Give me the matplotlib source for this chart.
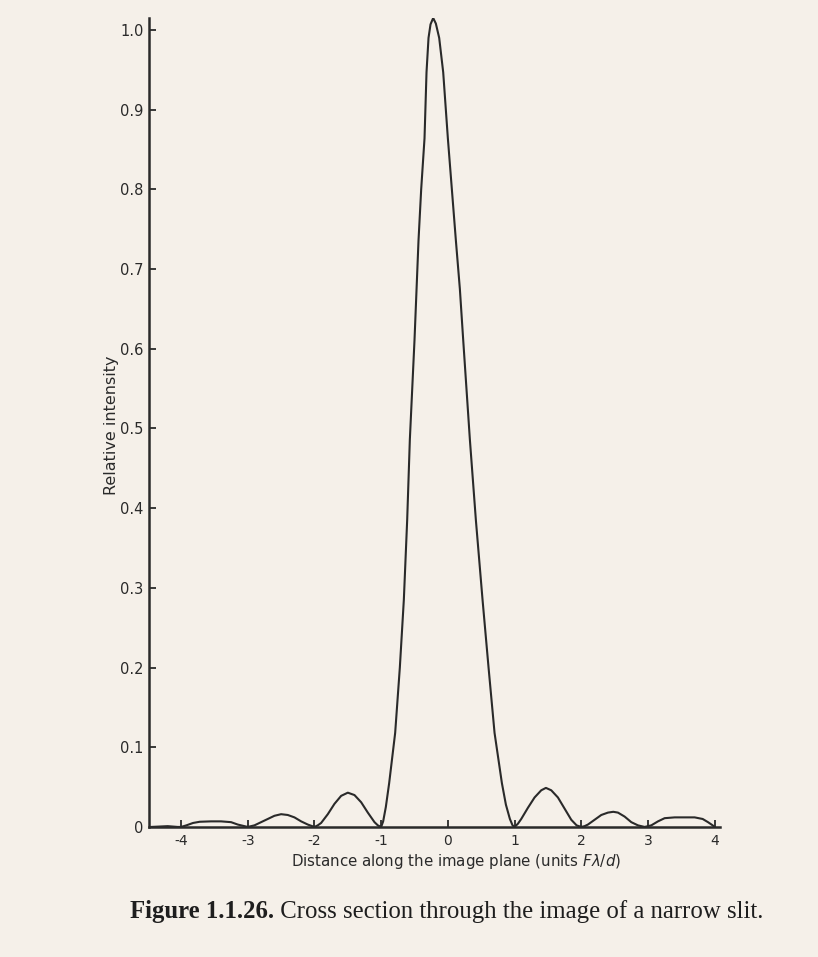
import matplotlib
matplotlib.use("Agg")
import matplotlib.pyplot as plt

# ---- data ----
distance = [
    -4.45, -4.20, -4.05, -4.00, -3.92, -3.82, -3.72, -3.55, -3.40, -3.25, -3.15, -3.05, -3.00,
    -2.90, -2.80, -2.70, -2.60, -2.50, -2.40, -2.30, -2.20, -2.10, -2.00,
    -1.95, -1.90, -1.80, -1.70, -1.60, -1.50, -1.40, -1.30, -1.20, -1.10, -1.05, -1.00,
    -0.97, -0.93, -0.88, -0.79, -0.72, -0.66, -0.61, -0.57, -0.50, -0.44, -0.40, -0.35,
    -0.32, -0.29, -0.26, -0.22, -0.18, -0.13, -0.07, 0.00, 0.06, 0.12, 0.18, 0.23, 0.33,
    0.42, 0.52, 0.61, 0.70, 0.81, 0.87, 0.93, 0.97, 1.00,
    1.05, 1.10, 1.20, 1.30, 1.40, 1.47, 1.55, 1.65, 1.75, 1.85, 1.93, 2.00,
    2.05, 2.10, 2.20, 2.30, 2.40, 2.48, 2.55, 2.65, 2.75, 2.85, 2.95,
    3.05, 3.15, 3.25, 3.40, 3.55, 3.70, 3.82, 3.90, 3.97, 4.00,
]
intensity = [
    0.000, 0.001, 0.000, 0.000, 0.002, 0.005, 0.0065, 0.007, 0.007, 0.006, 0.003, 0.001, 0.000,
    0.002, 0.006, 0.010, 0.014, 0.016, 0.015, 0.012, 0.007, 0.003, 0.000,
    0.002, 0.005, 0.016, 0.029, 0.039, 0.043, 0.040, 0.031, 0.018, 0.006, 0.002, 0.000,
    0.007, 0.025, 0.055, 0.118, 0.200, 0.285, 0.385, 0.486, 0.611, 0.736, 0.800, 0.864,
    0.947, 0.990, 1.007, 1.015, 1.008, 0.990, 0.947, 0.864, 0.800, 0.736, 0.675, 0.611, 0.486,
    0.385, 0.285, 0.200, 0.118, 0.055, 0.028, 0.010, 0.002, 0.000,
    0.004, 0.010, 0.024, 0.037, 0.046, 0.049, 0.046, 0.037, 0.023, 0.009, 0.002, 0.000,
    0.001, 0.003, 0.009, 0.015, 0.018, 0.019, 0.018, 0.013, 0.006, 0.002, 0.000,
    0.002, 0.007, 0.011, 0.012, 0.012, 0.012, 0.010, 0.006, 0.002, 0.000,
]
x_ticks = [-4, -3, -2, -1, 0, 1, 2, 3, 4]
x_tick_labels = ["-4", "-3", "-2", "-1", "0", "1", "2", "3", "4"]
y_ticks = [0, 0.1, 0.2, 0.3, 0.4, 0.5, 0.6, 0.7, 0.8, 0.9, 1.0]
y_tick_labels = ["0", "0.1", "0.2", "0.3", "0.4", "0.5", "0.6", "0.7", "0.8", "0.9", "1.0"]

BG = "#f5f0e9"
INK = "#2a2a2a"

plt.rcParams["font.family"] = ["DejaVu Sans"]
plt.rcParams["mathtext.fontset"] = "dejavusans"

fig = plt.figure(figsize=(8.18, 9.57), dpi=100, facecolor=BG)
ax = fig.add_axes([0.1822, 0.1359, 0.698, 0.8453], facecolor=BG)

ax.plot(distance, intensity, color=INK, lw=1.5, solid_joinstyle="round")

ax.set_xlim(-4.48, 4.08)
ax.set_ylim(0, 1.015)

for s in ["top", "right"]:
    ax.spines[s].set_visible(False)
for s in ["left", "bottom"]:
    ax.spines[s].set_color(INK)
    ax.spines[s].set_linewidth(1.8)

ax.set_xticks(x_ticks)
ax.set_xticklabels(x_tick_labels)
ax.set_yticks(y_ticks)
ax.set_yticklabels(y_tick_labels)
ax.tick_params(axis="both", direction="in", color=INK, labelcolor=INK,
               width=1.3, length=5, labelsize=10.5)
ax.tick_params(axis="x", pad=5, labelsize=10)
ax.tick_params(axis="y", pad=4)

ax.set_ylabel("Relative intensity", fontsize=11.5, color=INK)
ax.yaxis.set_label_coords(-0.052, 0.496)
ax.set_xlabel(r"Distance along the image plane (units $F\lambda/d$)", fontsize=10.8, color=INK)
ax.xaxis.set_label_coords(0.537, -0.031)

t1 = fig.text(130 / 818, 1 - 923 / 957, "Figure 1.1.26.", family="Liberation Serif",
              weight="bold", fontsize=17.8, color="#1e1e1e", ha="left", va="bottom")
ax.annotate(" Cross section through the image of a narrow slit.", xy=(1, 0),
            xycoords=t1, ha="left", va="bottom", family="Liberation Serif",
            fontsize=17.8, color="#1e1e1e", annotation_clip=False)

fig.savefig("out.png", dpi=100, facecolor=BG)
